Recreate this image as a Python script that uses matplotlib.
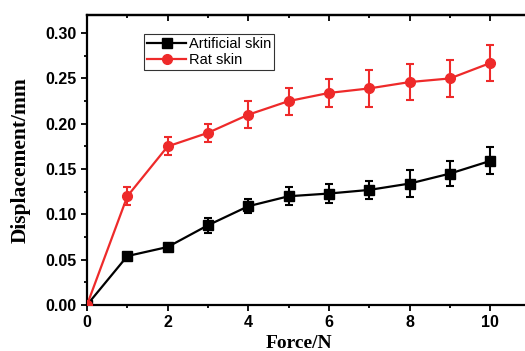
import matplotlib
matplotlib.use('Agg')
import matplotlib.pyplot as plt
import matplotlib.ticker as tic

force = [0, 1, 2, 3, 4, 5, 6, 7, 8, 9, 10]
art_skin = [0, 0.054, 0.064, 0.088, 0.109, 0.120, 0.123, 0.127, 0.134, 0.145, 0.159]
art_err = [0, 0.003, 0.003, 0.008, 0.008, 0.010, 0.010, 0.010, 0.015, 0.014, 0.015]
rat_skin = [0, 0.120, 0.175, 0.190, 0.210, 0.225, 0.234, 0.239, 0.246, 0.250, 0.267]
rat_err = [0, 0.010, 0.010, 0.010, 0.015, 0.015, 0.015, 0.020, 0.020, 0.020, 0.020]

red = '#ee2a2a'
fig = plt.figure(figsize=(5.25, 3.51), dpi=100)
ax = fig.add_axes([87/525, 46/351, 442/525, 290/351])

ax.errorbar(force, art_skin, yerr=art_err, fmt='none', ecolor='black', capsize=3, elinewidth=1.5, capthick=1.5, zorder=3)
ax.plot(force, art_skin, color='black', marker='s', markersize=7, linewidth=1.6, label='Artificial skin', zorder=3)
ax.errorbar(force, rat_skin, yerr=rat_err, fmt='none', ecolor=red, capsize=3, elinewidth=1.5, capthick=1.5, zorder=4)
ax.plot(force, rat_skin, color=red, marker='o', markersize=7, linewidth=1.6, label='Rat skin', zorder=4)

ax.set_xlim(0, 10.96)
ax.set_ylim(0, 0.32)
ax.xaxis.set_major_locator(tic.MultipleLocator(2))
ax.xaxis.set_minor_locator(tic.MultipleLocator(1))
ax.yaxis.set_major_locator(tic.MultipleLocator(0.05))
ax.yaxis.set_minor_locator(tic.MultipleLocator(0.025))
ax.yaxis.set_major_formatter(tic.FormatStrFormatter('%.2f'))

for s in ax.spines.values():
    s.set_linewidth(1.6)
ax.tick_params(which='both', direction='out', top=False, width=1.3)
ax.tick_params(which='major', length=4)
ax.tick_params(which='minor', length=2.5)
sec = ax.secondary_xaxis('top')
sec.xaxis.set_major_locator(tic.MultipleLocator(2))
sec.xaxis.set_minor_locator(tic.MultipleLocator(1))
sec.tick_params(which='major', direction='in', length=4, width=1.3, labeltop=False)
sec.tick_params(which='minor', direction='in', length=2.5, width=1.3)
sec.spines['top'].set_linewidth(1.6)

for lab in ax.get_xticklabels() + ax.get_yticklabels():
    lab.set_fontfamily('Liberation Sans')
    lab.set_fontweight('bold')
    lab.set_fontsize(11.5)

ax.set_xlabel('Force/N', fontfamily='Liberation Serif', fontweight='bold', fontsize=14)
ax.xaxis.set_label_coords(212/442, -0.105)
ax.set_ylabel('Displacement/mm', fontfamily='Liberation Serif', fontweight='bold', fontsize=15.5)
ax.yaxis.set_label_coords(-0.128, 0.5)

leg = ax.legend(loc='upper left', bbox_to_anchor=(57/442, 0.935), prop={'family': 'Liberation Sans', 'size': 10.5},
                frameon=True, fancybox=False, edgecolor='black', borderpad=0.2, labelspacing=0.15,
                handlelength=2.7, handletextpad=0.2, borderaxespad=0)
leg.get_frame().set_linewidth(0.8)

fig.savefig('out.png', dpi=100)
